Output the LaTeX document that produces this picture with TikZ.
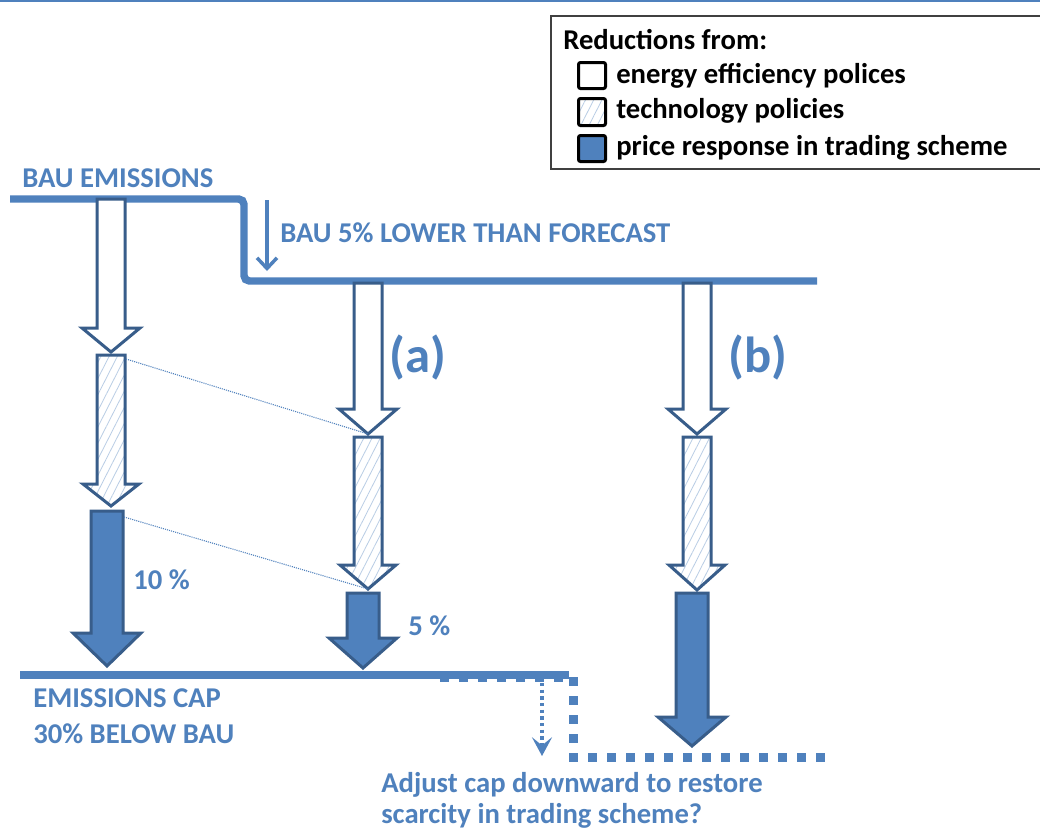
\documentclass[tikz,border=0pt]{standalone}
\usepackage{fontspec}
\setmainfont{Carlito}
\usetikzlibrary{patterns.meta,arrows.meta}
\definecolor{bau}{HTML}{4F81BD}
\definecolor{arrline}{HTML}{385D8A}
\definecolor{hatchc}{HTML}{B9CDE5}
\definecolor{legline}{HTML}{404040}
% #1 style, #2 name, #3 cx, #4 ytop, #5 yhead, #6 ytip, #7 half shaft, #8 half head
\newcommand\blkarrow[8]{%
  \coordinate (#2-tl) at ({#3-#7},#4);
  \coordinate (#2-tr) at ({#3+#7},#4);
  \coordinate (#2-tip) at (#3,#6);
  \path[#1] ({#3-#7},#4) -- ({#3+#7},#4) -- ({#3+#7},#5) -- ({#3+#8},#5) -- (#3,#6) -- ({#3-#8},#5) -- ({#3-#7},#5) -- cycle;
}
\tikzset{
  arrbase/.style={draw=arrline, line width=2.25pt, line join=miter},
  whitearr/.style={arrbase, fill=white},
  hatchfill/.style={preaction={fill=white}, preaction={pattern={Lines[angle=63,distance=5.5pt,line width=0.6pt]}, pattern color=hatchc}},
  hatcharr/.style={hatchfill, arrbase},
  fillarr/.style={arrbase, fill=bau},
  bluetxt/.style={text=bau, font=\bfseries\fontsize{21.5pt}{26pt}\selectfont, inner sep=0pt, anchor=base west},
  legtxt/.style={text=black, font=\bfseries\fontsize{21.5pt}{26pt}\selectfont, inner sep=0pt, anchor=base west},
  bigtxt/.style={text=bau, font=\bfseries\fontsize{38pt}{44pt}\selectfont, inner sep=0pt, anchor=base west},
  bauline/.style={draw=bau, line width=5.6pt},
  conn/.style={draw=bau, line width=0.8pt, dash pattern=on 0.8pt off 0.8pt},
  sqdots/.style={draw=bau, line width=6.75pt, dash pattern=on 6.75pt off 7.5pt},
  swatch/.style={draw=black, line width=2.25pt, rounded corners=1.5pt},
}
\begin{document}
\begin{tikzpicture}[x=0.75pt,y=-0.75pt]
\useasboundingbox (0,0) rectangle (1040,829);
\clip (0,0) rectangle (1040,829);
\fill[white] (0,0) rectangle (1040,829);
% top rule
\draw[draw=bau, line width=1.5pt] (0,1) -- (1040,1);
% legend
\draw[draw=legline, line width=1.2pt] (551,16) rectangle (1050,169);
\node[legtxt] (legtitle) at (563,49) {Reductions from:};
\path[swatch, fill=white] (578.5,62.5) rectangle (605.5,88.5);
\path[swatch, hatchfill] (578.5,98.5) rectangle (605.5,125.5);
\path[swatch, fill=bau] (578.5,135.5) rectangle (605.5,161.5);
\node[legtxt] (leg1) at (616,83) {energy efficiency polices};
\node[legtxt] (leg2) at (616,118) {technology policies};
\node[legtxt] (leg3) at (616,155) {price response in trading scheme};
% dotted step line (behind cap line)
\draw[sqdots] (440,677) -- (573,677) -- (573,757) -- (834,757);
% BAU lines
\draw[bauline, rounded corners=4pt] (10,199) -- (244,199) -- (244,281) -- (817,281);
% cap line
\draw[draw=bau, line width=6pt] (20,675) -- (569,675);
% labels
\node[bluetxt] (bau) at (22,187) {BAU EMISSIONS};
\node[bluetxt] (lower) at (280,242) {BAU 5\% LOWER THAN FORECAST};
\node[bluetxt] (cap1) at (33,707) {EMISSIONS CAP};
\node[bluetxt] (cap2) at (33,743) {30\% BELOW BAU};
\node[bluetxt] (adj1) at (381,792) {Adjust cap downward to restore};
\node[bluetxt] (adj2) at (381,823) {scarcity in trading scheme?};
\node[bluetxt] (p10) at (133,589) {10 \%};
\node[bluetxt] (p5) at (408,635) {5 \%};
\node[bigtxt] (la) at (389,372) {(a)};
\node[bigtxt] (lb) at (728,372) {(b)};
% small arrows
\coordinate (lowS) at (267,200);
\coordinate (lowE) at (267,271);
\draw[draw=bau, line width=2.6pt, -{Straight Barb[length=8pt,width=15pt,line width=2.6pt]}] (lowS) -- (lowE);
\coordinate (adjS) at (542,683);
\coordinate (adjE) at (542,756);
\draw[draw=bau, line width=2.5pt, dash pattern=on 2.5pt off 2.5pt, -{Stealth[length=14pt,width=15pt,inset=6pt]}] (adjS) -- (adjE);
% column 1
\blkarrow{whitearr}{w1}{111}{199}{328}{352}{14}{29}
\blkarrow{hatcharr}{h1}{111}{355}{484}{506}{14}{28}
\blkarrow{fillarr}{f1}{107}{511}{633}{666}{16}{34}
% column 2
\blkarrow{whitearr}{w2}{368}{283}{409}{434}{14}{29}
\blkarrow{hatcharr}{h2}{368}{437}{565}{589}{14}{28}
\blkarrow{fillarr}{f2}{363}{593}{638}{668}{16}{34}
% column 3
\blkarrow{whitearr}{w3}{697}{283}{409}{434}{14}{29}
\blkarrow{hatcharr}{h3}{697}{437}{565}{590}{14}{28}
\blkarrow{fillarr}{f3}{692}{593}{717}{746}{16}{34}
% dotted connectors
\draw[conn] (h1-tr) ++(1,4) -- (w2-tip);
\draw[conn] (f1-tr) ++(1,6) -- (h2-tip);
\end{tikzpicture}
\end{document}
